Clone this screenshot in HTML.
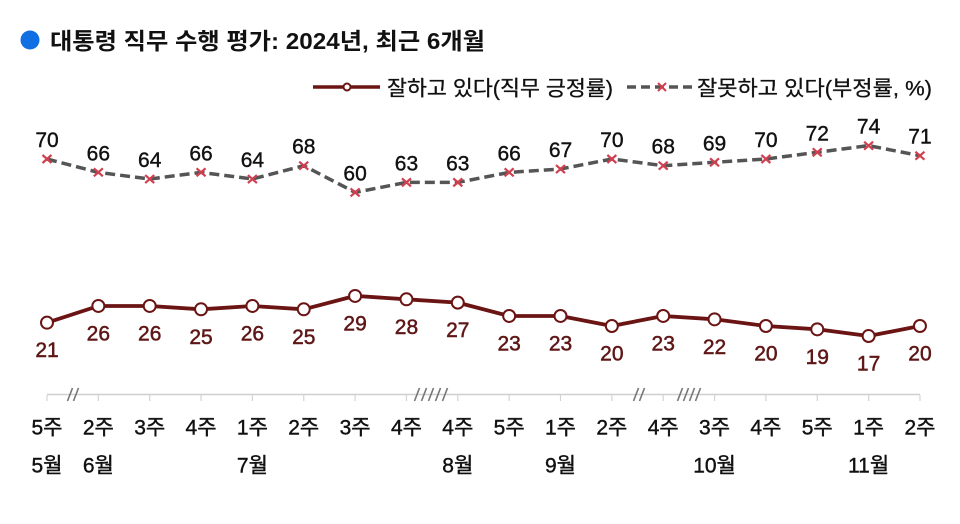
<!DOCTYPE html>
<html><head><meta charset="utf-8"><style>
html,body{margin:0;padding:0;background:#fff;}
svg{display:block;font-family:"Liberation Sans","Noto Sans CJK KR",sans-serif;}
</style></head><body>
<svg width="960" height="524" viewBox="0 0 960 524" xmlns="http://www.w3.org/2000/svg">
<rect width="960" height="524" fill="#fff"/>
<!-- title -->
<circle cx="30" cy="40" r="9.5" fill="#0f6fe3"/>
<text x="50" y="49" font-size="23" font-weight="bold" fill="#111" textLength="435" lengthAdjust="spacingAndGlyphs">대통령 직무 수행 평가: 2024년, 최근 6개월</text>
<!-- legend -->
<line x1="313" y1="87" x2="380" y2="87" stroke="#6b1414" stroke-width="3.5"/>
<circle cx="347" cy="87" r="3.5" fill="#fff" stroke="#6b1414" stroke-width="2"/>
<text x="387" y="95.5" font-size="21" fill="#111" stroke="#111" stroke-width="0.3" textLength="226" lengthAdjust="spacingAndGlyphs">잘하고 있다(직무 긍정률)</text>
<line x1="627" y1="87" x2="693" y2="87" stroke="#555" stroke-width="3.5" stroke-dasharray="9,5"/>
<g stroke="#d04050" stroke-width="2"><line x1="658" y1="83" x2="666" y2="91"/><line x1="666" y1="83" x2="658" y2="91"/></g>
<text x="697" y="95.5" font-size="21" fill="#111" stroke="#111" stroke-width="0.3" textLength="235" lengthAdjust="spacingAndGlyphs">잘못하고 있다(부정률, %)</text>

<!-- axis -->
<line x1="47" y1="394.5" x2="920" y2="394.5" stroke="#cfcfcf" stroke-width="1.5"/>
<g stroke="#d4d4d4" stroke-width="1.2" id="ticks"></g>
<g stroke="#777" stroke-width="1.6" id="breaks"></g>

<g id="neg"></g>
<g id="pos"></g>
<g id="labels"></g>
</svg>
<script>
(function(){
var NS="http://www.w3.org/2000/svg";
function el(t,a,p,txt){var e=document.createElementNS(NS,t);for(var k in a)e.setAttribute(k,a[k]);if(txt!==undefined)e.textContent=txt;p.appendChild(e);return e;}
var neg=[70,66,64,66,64,68,60,63,63,66,67,70,68,69,70,72,74,71];
var pos=[21,26,26,25,26,25,29,28,27,23,23,20,23,22,20,19,17,20];
var wk=["5주","2주","3주","4주","1주","2주","3주","4주","4주","5주","1주","2주","4주","3주","4주","5주","1주","2주"];
var mo={0:"5월",1:"6월",4:"7월",8:"8월",10:"9월",13:"10월",16:"11월"};
function X(i){return 47+51.35*i;}
function Y(v){return 159+(70-v)*3.34;}
var ticks=document.getElementById("ticks");
for(var i=0;i<18;i++){el("line",{x1:X(i),y1:395,x2:X(i),y2:401},ticks);}
var br=document.getElementById("breaks");
[70,76,417,424,431,438,445,636,642,680,686,692,698].forEach(function(x){el("line",{x1:x-2.5,y1:401,x2:x+2.5,y2:388},br);});
var g=document.getElementById("neg");
var d="";for(var i=0;i<18;i++){d+=(i?"L":"M")+X(i).toFixed(1)+" "+Y(neg[i]).toFixed(1)+" ";}
el("path",{d:d,fill:"none",stroke:"#555","stroke-width":3.5,"stroke-dasharray":"10,5"},g);
for(var i=0;i<18;i++){var x=X(i),y=Y(neg[i]);
el("line",{x1:x-4.5,y1:y-4,x2:x+4.5,y2:y+4,stroke:"#d04050","stroke-width":2.2},g);
el("line",{x1:x+4.5,y1:y-4,x2:x-4.5,y2:y+4,stroke:"#d04050","stroke-width":2.2},g);}
var p=document.getElementById("pos");
d="";for(var i=0;i<18;i++){d+=(i?"L":"M")+X(i).toFixed(1)+" "+Y(pos[i]).toFixed(1)+" ";}
el("path",{d:d,fill:"none",stroke:"#6b1414","stroke-width":3.8,"stroke-linejoin":"round"},p);
for(var i=0;i<18;i++){el("circle",{cx:X(i),cy:Y(pos[i]),r:6,fill:"#fff",stroke:"#6b1414","stroke-width":2},p);}
var L=document.getElementById("labels");
for(var i=0;i<18;i++){var x=X(i);
el("text",{x:x,y:Y(neg[i])-12,"font-size":21,"text-anchor":"middle",fill:"#111",stroke:"#111","stroke-width":0.4},L,String(neg[i]));
el("text",{x:x,y:Y(pos[i])+34.5,"font-size":21,"text-anchor":"middle",fill:"#5e1616",stroke:"#5e1616","stroke-width":0.5},L,String(pos[i]));
el("text",{x:x,y:434.5,"font-size":21,"text-anchor":"middle",fill:"#111",stroke:"#111","stroke-width":0.4},L,wk[i]);
if(mo[i])el("text",{x:x,y:472.5,"font-size":21,"text-anchor":"middle",fill:"#111",stroke:"#111","stroke-width":0.4},L,mo[i]);
}
})();
</script>
</body></html>
